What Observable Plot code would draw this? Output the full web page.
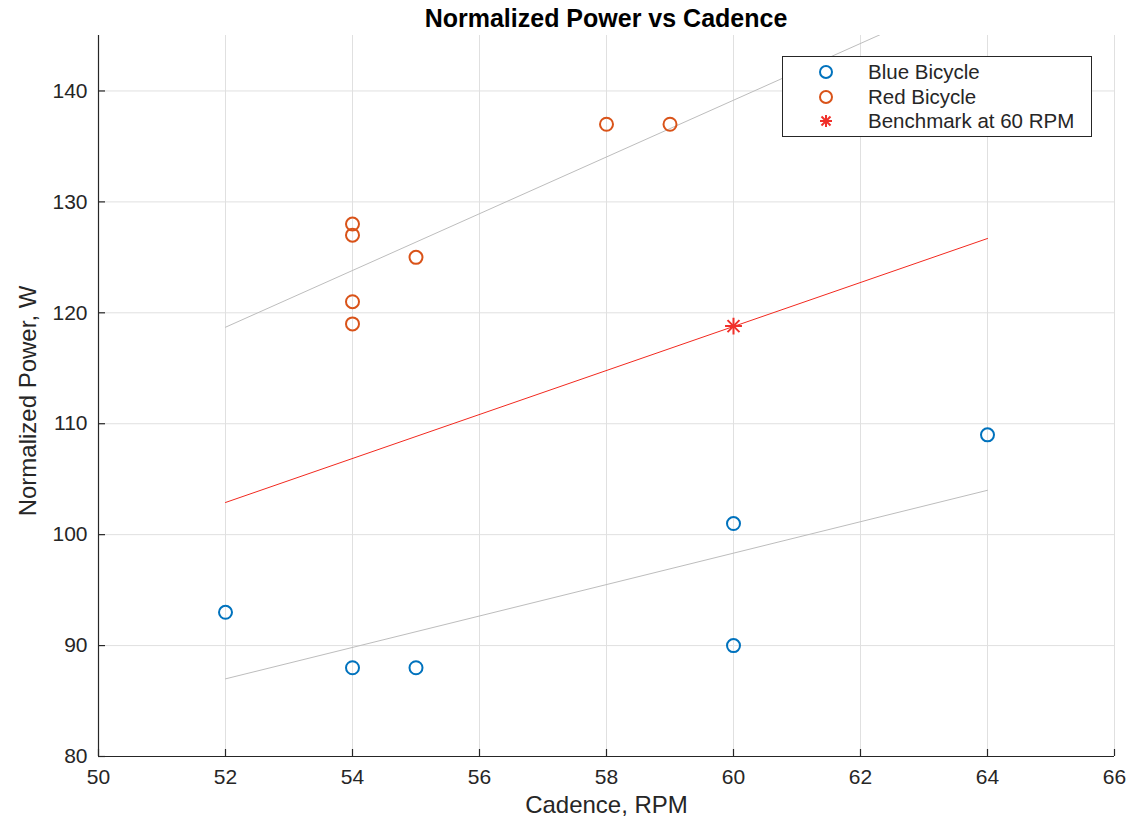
<!DOCTYPE html>
<html>
<head>
<meta charset="utf-8">
<script src="https://cdn.jsdelivr.net/npm/d3@7"></script>
<script src="https://cdn.jsdelivr.net/npm/@observablehq/plot@0.6"></script>
<style>
  html, body { margin: 0; padding: 0; background: #fff; }
  #wrap { position: relative; width: 1136px; height: 820px; font-family: "Liberation Sans", Arial, sans-serif; }
  #title { position: absolute; left: 0; top: 4px; width: 1212px; text-align: center; font-weight: bold; font-size: 25px; color: #000; }
  #legend { position: absolute; left: 782px; top: 56px; width: 308px; height: 79px; border: 1px solid #262626; background: #fff; font-size: 20.5px; color: #262626; }
  .row { position: absolute; left: 0; height: 24px; width: 300px; }
  .row svg { position: absolute; left: 33px; top: 2px; }
  .row span { position: absolute; left: 85px; top: 1px; white-space: nowrap; line-height: 22px; }
</style>
</head>
<body>
<div id="wrap">
  <div id="chart"></div>
  <div id="title">Normalized Power vs Cadence</div>
  <div id="legend"></div>
</div>
<script>
// Data
const blueCadence = [52, 54, 55, 60, 60, 64];
const bluePower   = [93, 88, 88, 101, 90, 109];
const redCadence  = [54, 54, 54, 54, 55, 58, 59];
const redPower    = [128, 127, 121, 119, 125, 137, 137];
const benchCadence = [60];
const benchPower   = [118.8];
const fitCadence = [52, 64];
const redFitPower  = [118.7, 149.4];
const blueFitPower = [87.0, 104.0];
const meanFitPower = [102.9, 126.7];
const xTicks = [50, 52, 54, 56, 58, 60, 62, 64, 66];
const yTicks = [80, 90, 100, 110, 120, 130, 140];

const seriesLabels = ["Blue Bicycle", "Red Bicycle", "Benchmark at 60 RPM"];
const blueColor = "#0072BD";
const orangeColor = "#D95319";
const starColor = "#f0302a";
const axisColor = "#262626";

const blue = blueCadence.map((x, i) => ({x, y: bluePower[i]}));
const red = redCadence.map((x, i) => ({x, y: redPower[i]}));
const bench = benchCadence.map((x, i) => ({x, y: benchPower[i]}));
const fitRed = fitCadence.map((x, i) => ({x, y: redFitPower[i]}));
const fitBlue = fitCadence.map((x, i) => ({x, y: blueFitPower[i]}));
const fitMean = fitCadence.map((x, i) => ({x, y: meanFitPower[i]}));

const font = "'Liberation Sans', Arial, sans-serif";

const chart = Plot.plot({
  width: 1136,
  height: 820,
  marginTop: 35,
  marginLeft: 98,
  marginRight: 22,
  marginBottom: 64,
  style: {fontFamily: font, fontSize: "21px", color: axisColor, background: "#fff"},
  x: {domain: [50, 66]},
  y: {domain: [80, 145]},
  marks: [
    Plot.gridX(xTicks.slice(1), {stroke: "#e0e0e0", strokeOpacity: 1}),
    Plot.gridY(yTicks.slice(1), {stroke: "#e0e0e0", strokeOpacity: 1}),
    Plot.line(fitRed, {x: "x", y: "y", stroke: "#bdbdbd", strokeWidth: 1, clip: true}),
    Plot.line(fitBlue, {x: "x", y: "y", stroke: "#bdbdbd", strokeWidth: 1}),
    Plot.line(fitMean, {x: "x", y: "y", stroke: "#f2291f", strokeWidth: 1}),
    Plot.dot(blue, {x: "x", y: "y", r: 6.5, stroke: blueColor, strokeWidth: 2, fill: "none"}),
    Plot.dot(red, {x: "x", y: "y", r: 6.5, stroke: orangeColor, strokeWidth: 2, fill: "none"}),
    Plot.dot(bench, {x: "x", y: "y", symbol: "plus", r: 5.5, stroke: starColor, strokeWidth: 2}),
    Plot.dot(bench, {x: "x", y: "y", symbol: "times", r: 5.5, stroke: starColor, strokeWidth: 2}),
    Plot.ruleX([50], {stroke: axisColor, strokeWidth: 1.2}),
    Plot.ruleY([80], {stroke: axisColor, strokeWidth: 1.2}),
    Plot.ruleX(xTicks, {x: d => d, y1: 80, y2: 80, insetTop: -7, stroke: axisColor, strokeWidth: 1.2}),
    Plot.ruleY(yTicks, {y: d => d, x1: 50, x2: 50, insetRight: -7, stroke: axisColor, strokeWidth: 1.2}),
    Plot.axisX(xTicks, {tickSize: 0, tickPadding: 13, fontSize: 21, fill: axisColor, label: null}),
    Plot.axisY(yTicks, {tickSize: 0, tickPadding: 11, fontSize: 21, fill: axisColor, label: null}),
    Plot.text(["Cadence, RPM"], {frameAnchor: "bottom", lineAnchor: "middle", textAnchor: "middle", dy: 49, fontSize: 24, fill: axisColor}),
    Plot.text(["Normalized Power, W"], {frameAnchor: "left", lineAnchor: "middle", textAnchor: "middle", dx: -70, dy: 5, rotate: -90, fontSize: 24, fill: axisColor})
  ]
});
document.getElementById("chart").appendChild(chart);

// Legend
const legend = document.getElementById("legend");
const markers = [
  `<svg width="20" height="20" viewBox="-10 -10 20 20"><circle r="6" fill="none" stroke="${blueColor}" stroke-width="2"/></svg>`,
  `<svg width="20" height="20" viewBox="-10 -10 20 20"><circle r="6" fill="none" stroke="${orangeColor}" stroke-width="2"/></svg>`,
  `<svg width="20" height="20" viewBox="-10 -10 20 20"><g stroke="${starColor}" stroke-width="2"><line x1="-6" y1="0" x2="6" y2="0"/><line x1="0" y1="-6" x2="0" y2="6"/><line x1="-4.5" y1="-4.5" x2="4.5" y2="4.5"/><line x1="-4.5" y1="4.5" x2="4.5" y2="-4.5"/></g></svg>`
];
seriesLabels.forEach((lab, i) => {
  const row = document.createElement("div");
  row.className = "row";
  row.style.top = (3 + i * 24.5) + "px";
  row.innerHTML = markers[i] + `<span>${lab}</span>`;
  legend.appendChild(row);
});
</script>
</body>
</html>
